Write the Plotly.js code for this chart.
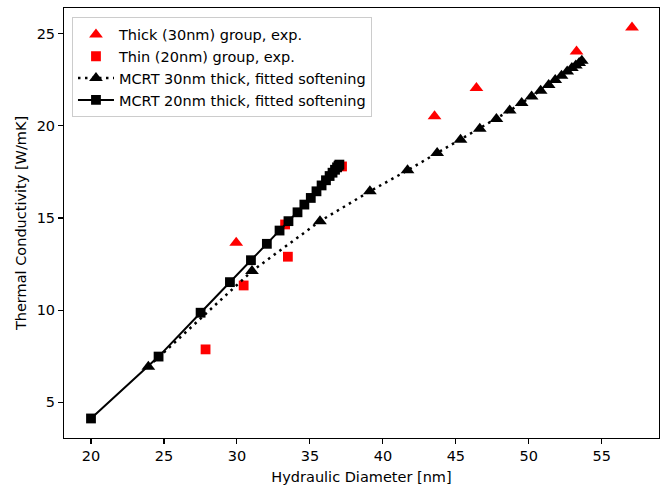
<!DOCTYPE html>
<html>
<head>
<meta charset="utf-8">
<script src="https://cdn.plot.ly/plotly-3.0.1.min.js"></script>
<style>html,body{margin:0;padding:0;background:#fff;}#chart{width:661px;height:485px;}</style>
</head>
<body>
<div id="chart"></div>
<script>
// Experimental data
const thickExpX = [29.95, 43.54, 46.41, 53.27, 57.07];
const thickExpY = [13.66, 20.52, 22.06, 24.04, 25.34];
const thinExpX = [27.85, 30.46, 33.30, 33.49, 37.20];
const thinExpY = [7.87, 11.34, 14.65, 12.90, 17.80];
// MCRT 30nm thick
const mcrt30X = [23.93, 31.03, 35.69, 39.11, 41.69, 43.72, 45.32, 46.64, 47.78, 48.69, 49.51, 50.19, 50.81, 51.36, 51.81, 52.24, 52.63, 52.95, 53.22, 53.45, 53.63];
const mcrt30Y = [6.93, 12.12, 14.83, 16.45, 17.59, 18.53, 19.25, 19.85, 20.38, 20.83, 21.24, 21.60, 21.91, 22.22, 22.49, 22.72, 22.96, 23.14, 23.28, 23.41, 23.54];
// MCRT 20nm thick
const mcrt20X = [20.00, 24.63, 27.51, 29.52, 30.96, 32.05, 32.92, 33.53, 34.15, 34.62, 35.06, 35.45, 35.80, 36.10, 36.35, 36.55, 36.72, 36.86, 36.96, 37.02];
const mcrt20Y = [4.12, 7.48, 9.86, 11.52, 12.71, 13.60, 14.32, 14.83, 15.31, 15.73, 16.09, 16.45, 16.77, 17.05, 17.28, 17.46, 17.62, 17.75, 17.84, 17.90];
const traceNames = ["Thick (30nm) group, exp.", "Thin (20nm) group, exp.", "MCRT 30nm thick, fitted softening", "MCRT 20nm thick, fitted softening"];
const xTicks = [20, 25, 30, 35, 40, 45, 50, 55];
const yTicks = [5, 10, 15, 20, 25];

const FONT = "DejaVu Sans, sans-serif";
const FS = 14.5;
const traces = [
  {x: thickExpX, y: thickExpY, name: traceNames[0], mode: "markers", type: "scatter",
   marker: {symbol: "triangle-up", size: 12, color: "#ff0000"}},
  {x: thinExpX, y: thinExpY, name: traceNames[1], mode: "markers", type: "scatter",
   marker: {symbol: "square", size: 9.8, color: "#ff0000"}},
  {x: mcrt30X, y: mcrt30Y, name: traceNames[2], mode: "lines+markers", type: "scatter",
   line: {color: "#000000", width: 2.5, dash: "2.5px,4.5px"},
   marker: {symbol: "triangle-up", size: 12, color: "#000000"}},
  {x: mcrt20X, y: mcrt20Y, name: traceNames[3], mode: "lines+markers", type: "scatter",
   line: {color: "#000000", width: 2},
   marker: {symbol: "square", size: 9.8, color: "#000000"}}
];

const axisCommon = {
  showgrid: false, zeroline: false, showline: true, mirror: true,
  linecolor: "#000000", linewidth: 1.1,
  ticks: "outside", ticklen: 4.9, tickwidth: 1.1, tickcolor: "#000000",
  tickfont: {family: FONT, size: FS, color: "#000000"}
};

const layout = {
  width: 661, height: 485,
  margin: {l: 64, r: 2, t: 8, b: 47},
  paper_bgcolor: "#ffffff", plot_bgcolor: "#ffffff",
  font: {family: FONT, size: FS, color: "#000000"},
  showlegend: true,
  legend: {x: 0.0134, y: 0.978, xanchor: "left", yanchor: "top", itemwidth: 36,
    bgcolor: "rgba(255,255,255,0.8)", bordercolor: "#cccccc", borderwidth: 1,
    font: {family: FONT, size: FS, color: "#000000"}},
  xaxis: Object.assign({}, axisCommon, {
    range: [18.15, 58.92], tickmode: "array", tickvals: xTicks, ticktext: xTicks.map(String),
    title: {text: "Hydraulic Diameter [nm]", font: {family: FONT, size: FS, color: "#000000"}, standoff: 8}
  }),
  yaxis: Object.assign({}, axisCommon, {
    range: [3.06, 26.40], tickmode: "array", tickvals: yTicks, ticktext: yTicks.map(String),
    title: {text: "Thermal Conductivity [W/mK]", font: {family: FONT, size: FS, color: "#000000"}, standoff: 6}
  })
};

Plotly.newPlot("chart", traces, layout, {displayModeBar: false, staticPlot: true});
</script>
</body>
</html>
